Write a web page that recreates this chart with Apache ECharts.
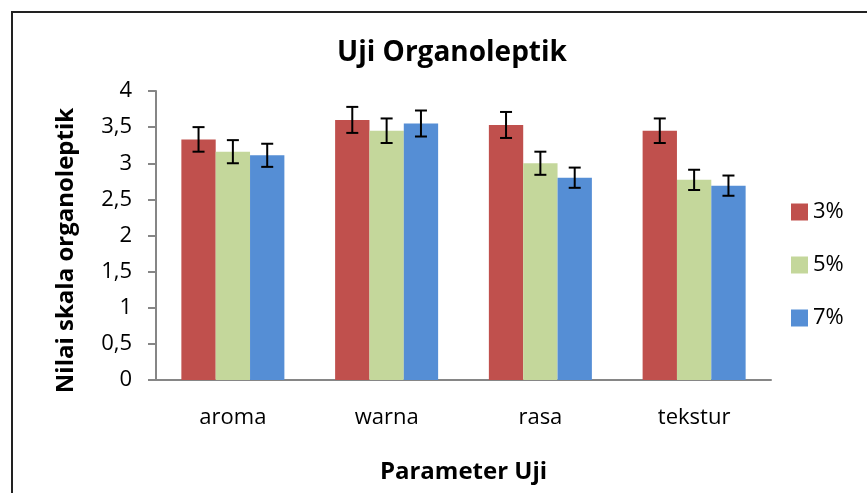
<!DOCTYPE html>
<html>
<head>
<meta charset="utf-8">
<script src="https://cdn.jsdelivr.net/npm/echarts@6/dist/echarts.min.js"></script>
<style>
  html,body{margin:0;padding:0;background:#fff;}
  #main{width:867px;height:493px;}
</style>
</head>
<body>
<div id="main"></div>
<script>
var categories = ['aroma', 'warna', 'rasa', 'tekstur'];
var seriesNames = ['3%', '5%', '7%'];
var val3 = [3.33, 3.60, 3.53, 3.45];
var val5 = [3.16, 3.45, 3.00, 2.77];
var val7 = [3.11, 3.55, 2.80, 2.69];
var err3 = [0.17, 0.18, 0.18, 0.17];
var err5 = [0.16, 0.17, 0.16, 0.14];
var err7 = [0.16, 0.18, 0.14, 0.14];
var colors = ['#C0504D', '#C4D79B', '#558ED5'];

var font = '"Open Sans", sans-serif';
var gapRatio = 0.33;

function errData(vals, errs){
    var list = [];
    for (var i = 0; i < vals.length; i++) {
        list.push([i, vals[i] - errs[i], vals[i] + errs[i]]);
    }
    return list;
}

// error bars drawn on top of each bar
function errSeries(idx, vals, errs){
    return {
        type: 'custom',
        name: seriesNames[idx] + ' err',
        z: 10,
        renderItem: function(params, api){
            var band = api.size([1, 0])[0];
            var barW = band * (1 - gapRatio) / 3;
            var lo = api.coord([api.value(0), api.value(1)]);
            var hi = api.coord([api.value(0), api.value(2)]);
            var x = lo[0] + (idx - 1) * barW;
            var cap = 6;
            var style = { stroke: '#000', lineWidth: 2 };
            return {
                type: 'group',
                children: [
                    { type: 'line', shape: { x1: x, y1: lo[1], x2: x, y2: hi[1] }, style: style },
                    { type: 'line', shape: { x1: x - cap, y1: hi[1], x2: x + cap, y2: hi[1] }, style: style },
                    { type: 'line', shape: { x1: x - cap, y1: lo[1], x2: x + cap, y2: lo[1] }, style: style }
                ]
            };
        },
        encode: { x: 0, y: [1, 2] },
        data: errData(vals, errs)
    };
}

var myChart = echarts.init(document.getElementById('main'));
var option = {
    animation: false,
    title: {
        text: 'Uji Organoleptik',
        left: 447,
        textAlign: 'center',
        top: 34,
        textStyle: { fontFamily: font, fontSize: 28, fontWeight: 'bold', color: '#000' }
    },
    legend: {
        data: seriesNames,
        orient: 'vertical',
        left: 786,
        top: 196,
        itemWidth: 17,
        itemHeight: 17,
        itemGap: 31,
        icon: 'rect',
        textStyle: { fontFamily: font, fontSize: 22, color: '#000' }
    },
    grid: { left: 156, right: 96, top: 91, bottom: 113 },
    xAxis: {
        type: 'category',
        data: categories,
        name: 'Parameter Uji',
        nameLocation: 'middle',
        nameGap: 80,
        nameTextStyle: { fontFamily: font, fontSize: 24, fontWeight: 'bold', color: '#000' },
        axisLine: { lineStyle: { color: '#868686', width: 2 } },
        axisTick: { length: 8, lineStyle: { color: '#868686', width: 2 } },
        axisLabel: { fontFamily: font, fontSize: 22, color: '#000', margin: 27 }
    },
    yAxis: {
        type: 'value',
        min: 0,
        max: 4,
        interval: 0.5,
        name: 'Nilai skala organoleptik',
        nameLocation: 'middle',
        nameGap: 78,
        nameTextStyle: { fontFamily: font, fontSize: 24, fontWeight: 'bold', color: '#000', padding: [0, 30, 0, 0] },
        axisLine: { show: true, lineStyle: { color: '#868686', width: 2 } },
        axisTick: { show: true, length: 8, lineStyle: { color: '#868686', width: 2 } },
        splitLine: { show: false },
        axisLabel: {
            fontFamily: font, fontSize: 22, color: '#000', margin: 24,
            formatter: function(v){ return String(v).replace('.', ','); }
        }
    },
    graphic: [
        { type: 'line', shape: { x1: 12, y1: 11, x2: 12, y2: 493 }, style: { stroke: '#222', lineWidth: 2 } },
        { type: 'line', shape: { x1: 11, y1: 12, x2: 867, y2: 12 }, style: { stroke: '#222', lineWidth: 2 } }
    ],
    series: [
        { name: '3%', type: 'bar', data: val3, barGap: 0, barCategoryGap: '33%', itemStyle: { color: colors[0] } },
        { name: '5%', type: 'bar', data: val5, barGap: 0, barCategoryGap: '33%', itemStyle: { color: colors[1] } },
        { name: '7%', type: 'bar', data: val7, barGap: 0, barCategoryGap: '33%', itemStyle: { color: colors[2] } },
        errSeries(0, val3, err3),
        errSeries(1, val5, err5),
        errSeries(2, val7, err7)
    ]
};
myChart.setOption(option);
</script>
</body>
</html>
